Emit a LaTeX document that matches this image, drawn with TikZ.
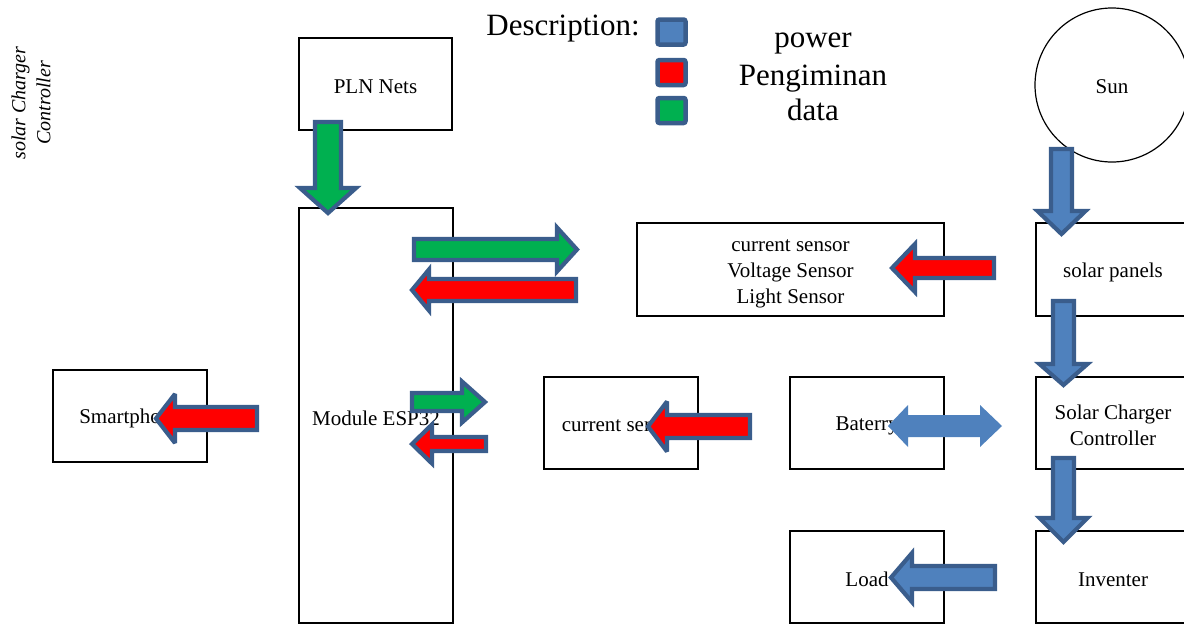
\documentclass[tikz,border=0pt]{standalone}
\usepackage{fontspec}
\setmainfont{Liberation Serif}
\definecolor{outl}{RGB}{58,93,140}
\definecolor{pblue}{RGB}{79,129,189}
\definecolor{pgreen}{RGB}{0,176,80}
\definecolor{pred}{RGB}{255,0,0}
\newcommand{\harr}[7]{\draw[#1] (#2,{#5-#6}) -- (#3,{#5-#6}) -- (#3,{#5-#7}) -- (#4,#5) -- (#3,{#5+#7}) -- (#3,{#5+#6}) -- (#2,{#5+#6}) -- cycle;}
\newcommand{\varr}[7]{\draw[#1] ({#5-#6},#2) -- ({#5-#6},#3) -- ({#5-#7},#3) -- (#5,#4) -- ({#5+#7},#3) -- ({#5+#6},#3) -- ({#5+#6},#2) -- cycle;}
\tikzset{
  box/.style={draw=black, line width=1.2pt, fill=white, inner sep=0pt},
  txt/.style={inner sep=0pt, align=center, font=\fontsize{21}{26}\selectfont},
  arr/.style={draw=outl, line width=4.2pt, line join=miter, miter limit=3},
  garr/.style={arr, fill=pgreen},
  rarr/.style={arr, fill=pred},
  barr/.style={arr, fill=pblue},
  legsq/.style={draw=outl, line width=4.5pt, rounded corners=2pt, minimum width=28pt, minimum height=25pt, inner sep=0pt},
  legtxt/.style={font=\fontsize{31}{37}\selectfont, inner sep=0pt, anchor=base}
}
\begin{document}
\begin{tikzpicture}[x=1pt,y=-1pt]
\useasboundingbox (0,0) rectangle (1184,625);
% boxes
\node[box, minimum width=153pt, minimum height=92pt] (pln) at (375.5,84) {};
\node[box, minimum width=154pt, minimum height=415pt] (esp) at (376,415.5) {};
\node[box, minimum width=154pt, minimum height=92pt] (smart) at (130,416) {};
\node[box, minimum width=307pt, minimum height=93pt] (sens) at (790.5,269.5) {};
\node[box, minimum width=154pt, minimum height=92pt] (cs) at (621,423) {};
\node[box, minimum width=154pt, minimum height=92pt] (bat) at (867,423) {};
\node[box, minimum width=154pt, minimum height=92pt] (scc) at (1113,423) {};
\node[box, minimum width=154pt, minimum height=93pt] (panel) at (1113,269.5) {};
\node[box, minimum width=154pt, minimum height=92pt] (inv) at (1113,577) {};
\node[box, minimum width=154pt, minimum height=92pt] (load) at (867,577) {};
\node[box, circle, minimum size=154pt] (sun) at (1112,85) {};
% box texts
\node[txt] (plnT) at ([yshift=-2.5pt]pln.center) {PLN Nets};
\node[txt] (espT) at ([yshift=-2.5pt]esp.center) {Module ESP32};
\node[txt] (smartT) at ([yshift=-2.5pt]smart.center) {Smartphone};
\node[txt] (sensT) at ([yshift=-4pt]sens.center) {current sensor\\Voltage Sensor\\Light Sensor};
\node[txt] (csT) at ([yshift=-2.5pt]cs.center) {current sensor};
\node[txt] (batT) at ([yshift=-2.5pt]bat.center) {Baterry};
\node[txt] (sccT) at ([yshift=-2pt]scc.center) {Solar Charger\\Controller};
\node[txt] (panelT) at ([yshift=-2.5pt]panel.center) {solar panels};
\node[txt] (invT) at ([yshift=-2.5pt]inv.center) {Inventer};
\node[txt] (loadT) at ([yshift=-2.5pt]load.center) {Load};
\node[txt] (sunT) at ([yshift=-1.5pt]sun.center) {Sun};
% side label
\node[rotate=90, align=center, inner sep=0pt, font=\itshape\fontsize{20}{25}\selectfont] (side) at (31,103) {solar Charger\\Controller};
% legend
\node[legtxt] (desc) at (563,35) {Description:};
\node[legsq, fill=pblue] (lp) at (671.5,32) {};
\node[legsq, fill=pred] (lr) at (671.5,72.5) {};
\node[legsq, fill=pgreen] (lg) at (671.5,110.5) {};
\node[legtxt] (tp) at (813,47) {power};
\node[legtxt] (tr) at (813,85) {Pengiminan};
\node[legtxt] (tg) at (813,120) {data};
% block arrows
\varr{garr}{122}{188}{213}{328}{13}{28}
\harr{garr}{414}{557}{577}{249.5}{10.5}{22}
\harr{rarr}{576}{429}{412}{290}{11}{20.5}
\harr{rarr}{994}{915}{892}{268}{10}{24}
\varr{barr}{149}{211}{234}{1061.5}{10.5}{24}
\varr{barr}{301}{364}{385}{1063.5}{10.5}{24}
\varr{barr}{458}{518}{542}{1063.5}{10.5}{24}
\harr{barr}{995}{912}{891}{577.5}{11.5}{24.5}
\harr{rarr}{750}{667}{648}{426.5}{11.5}{25}
\harr{rarr}{257}{175}{156}{418.5}{11.5}{24.5}
\harr{garr}{412}{462}{485}{402}{9}{20.5}
\harr{rarr}{486}{432}{412}{444}{7}{19.5}
% double arrow (battery)
\fill[pblue] (888,426) -- (908,405) -- (908,415) -- (980,415) -- (980,405) -- (1002,426)
  -- (980,447) -- (980,437) -- (908,437) -- (908,447) -- cycle;
\end{tikzpicture}
\end{document}
